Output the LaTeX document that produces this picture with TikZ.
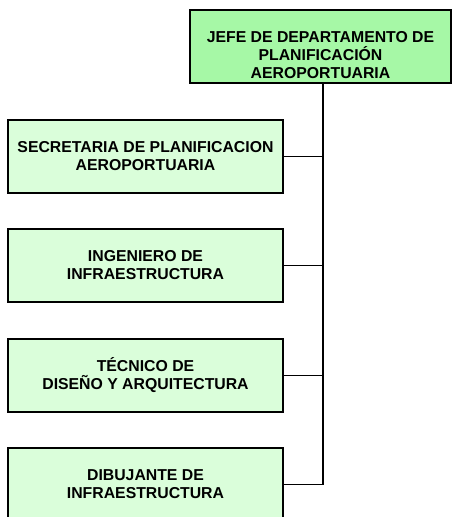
\documentclass[tikz,border=0pt]{standalone}
\usepackage{fontspec}
\setmainfont{Liberation Sans}
\definecolor{topgreen}{HTML}{A6F8A6}
\definecolor{subgreen}{HTML}{DAFEDA}
\begin{document}
\begin{tikzpicture}[x=1bp,y=-1bp,
  box/.style={draw=black, line width=1.3bp, rectangle, inner sep=0pt,
    align=center, font=\fontsize{15.8bp}{18bp}\selectfont\bfseries},
  topbox/.style={box, fill=topgreen, minimum width=261bp, minimum height=73bp},
  subbox/.style={box, fill=subgreen, minimum width=275bp, minimum height=73bp},
  conn/.style={draw=black, line width=1.8bp}]
\useasboundingbox (0,0) rectangle (452,517);
\begin{scope}
\clip (0,0) rectangle (452,517);
\node[topbox, label={[font=\fontsize{15.8bp}{18bp}\selectfont\bfseries, align=center, yshift=-9bp]center:JEFE DE DEPARTAMENTO DE\\PLANIFICACIÓN\\AEROPORTUARIA}] (jefe) at (320.5,46.5) {};
\node[subbox] (secr) at (145.5,156.5) {SECRETARIA DE PLANIFICACION\\AEROPORTUARIA};
\node[subbox] (ing) at (145.5,265.5) {INGENIERO DE\\INFRAESTRUCTURA};
\node[subbox] (tec) at (145.5,375.5) {TÉCNICO DE\\DISEÑO Y ARQUITECTURA};
\node[subbox] (dib) at (145.5,484.5) {DIBUJANTE DE\\INFRAESTRUCTURA};
\coordinate (spine) at (323,0);
\draw[conn] (jefe.south -| spine) -- (dib.east -| spine);
\draw[conn] (secr.east) -- (secr.east -| spine);
\draw[conn] (ing.east) -- (ing.east -| spine);
\draw[conn] (tec.east) -- (tec.east -| spine);
\draw[conn] (dib.east) -- (dib.east -| spine);
\end{scope}
\end{tikzpicture}
\end{document}
